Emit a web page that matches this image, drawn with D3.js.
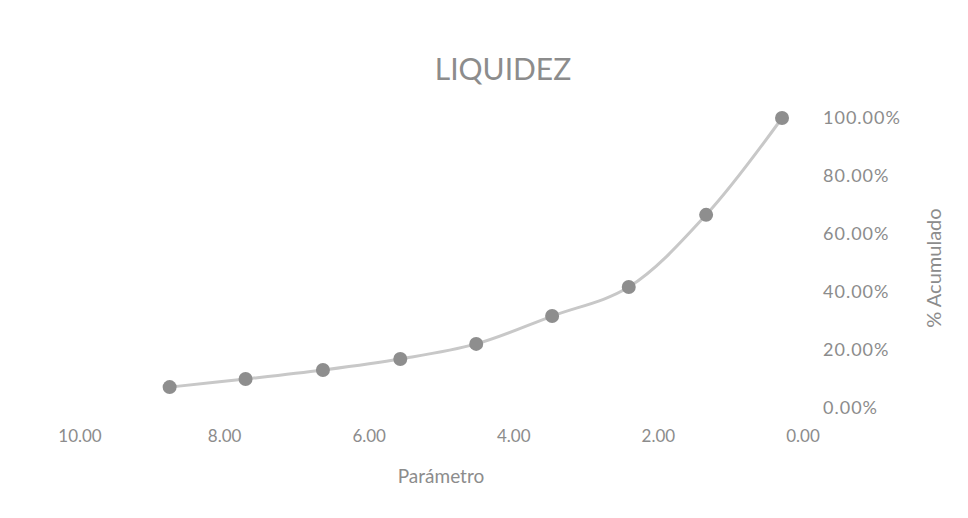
<!DOCTYPE html>
<html>
<head>
<meta charset="utf-8">
<script src="https://cdn.jsdelivr.net/npm/d3@7"></script>
<style>
  body { margin: 0; background: #fff; }
  text { font-family: Lato, "Open Sans", sans-serif; fill: #8c8c8c; }
</style>
</head>
<body>
<div class="chart"></div>
<script>
// Chart values
var parametro = [8.76, 7.71, 6.64, 5.57, 4.52, 3.47, 2.41, 1.34, 0.29];
var acumulado = [0.072, 0.100, 0.131, 0.169, 0.221, 0.317, 0.417, 0.666, 1.0];
var xTicks = [10, 8, 6, 4, 2, 0];
var yTicks = [0, 0.2, 0.4, 0.6, 0.8, 1.0];

var width = 968,
  height = 518,
  plotLeft = 80,
  plotRight = 803,
  plotTop = 118,
  plotBottom = 408;

var svg = d3.select(".chart").append("svg")
  .attr("width", width)
  .attr("height", height);

// reversed x axis, like the Excel one
var x = d3.scaleLinear().domain([10, 0]).range([plotLeft, plotRight]),
  y = d3.scaleLinear().domain([0, 1]).range([plotBottom, plotTop]);

var points = parametro.map(function(d, i) { return [d, acumulado[i]]; });

// Title
svg.append("text")
  .attr("x", 503)
  .attr("y", 80)
  .attr("text-anchor", "middle")
  .style("font-size", "30px")
  .text("LIQUIDEZ");

// x tick labels
svg.append("g").selectAll("text")
  .data(xTicks)
  .enter().append("text")
    .attr("x", function(d) { return x(d); })
    .attr("y", 442)
    .attr("text-anchor", "middle")
    .style("font-size", "17px")
    .text(d3.format(".2f"));

// y tick labels (right side)
svg.append("g").selectAll("text")
  .data(yTicks)
  .enter().append("text")
    .attr("x", 823)
    .attr("y", function(d) { return y(d); })
    .attr("dy", "0.35em")
    .style("font-size", "18px")
    .style("letter-spacing", "1px")
    .text(d3.format(".2%"));

// Axis titles
svg.append("text")
  .attr("x", 441)
  .attr("y", 483)
  .attr("text-anchor", "middle")
  .style("font-size", "19px")
  .text("Parámetro");

svg.append("text")
  .attr("transform", "translate(941,268) rotate(-90)")
  .attr("text-anchor", "middle")
  .style("font-size", "20px")
  .text("% Acumulado");

// smoothed line
var line = d3.line()
  .x(function(d) { return x(d[0]); })
  .y(function(d) { return y(d[1]); })
  .curve(d3.curveCatmullRom);

svg.append("path")
  .datum(points)
  .attr("d", line)
  .style("fill", "none")
  .style("stroke", "#c8c8c8")
  .style("stroke-width", 3);

svg.append("g").selectAll("circle")
  .data(points)
  .enter().append("circle")
    .attr("cx", function(d) { return x(d[0]); })
    .attr("cy", function(d) { return y(d[1]); })
    .attr("r", 7)
    .style("fill", "#8e8e8e");
</script>
</body>
</html>
